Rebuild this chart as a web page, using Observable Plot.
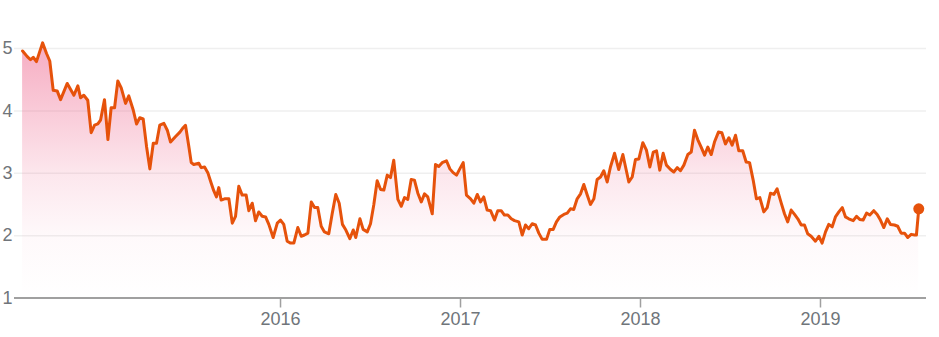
<!DOCTYPE html>
<html><head><meta charset="utf-8">
<script src="https://cdn.jsdelivr.net/npm/d3@7"></script>
<script src="https://cdn.jsdelivr.net/npm/@observablehq/plot@0.6"></script>
<style>html,body{margin:0;padding:0;background:#fff}</style>
</head><body><div id="chart"></div>
<script>
// time as fractional year
const times = [
2014.567,2014.593,2014.611,2014.626,2014.644,2014.678,2014.700,2014.718,2014.737,2014.759,
2014.778,2014.815,2014.852,2014.874,2014.889,2014.907,2014.929,2014.948,2014.967,2014.985,
2015.000,2015.022,2015.041,2015.059,2015.078,2015.096,2015.115,2015.139,2015.157,2015.182,
2015.200,2015.218,2015.237,2015.256,2015.274,2015.293,2015.311,2015.329,2015.352,2015.371,
2015.389,2015.417,2015.441,2015.459,2015.472,2015.491,2015.504,2015.518,2015.546,2015.559,
2015.578,2015.596,2015.615,2015.629,2015.644,2015.657,2015.670,2015.689,2015.713,2015.732,
2015.750,2015.768,2015.787,2015.809,2015.824,2015.843,2015.861,2015.879,2015.898,2015.917,
2015.935,2015.959,2015.982,2016.000,2016.018,2016.037,2016.056,2016.074,2016.096,2016.115,
2016.133,2016.152,2016.171,2016.189,2016.207,2016.226,2016.244,2016.268,2016.287,2016.307,
2016.326,2016.344,2016.363,2016.385,2016.404,2016.418,2016.441,2016.459,2016.482,2016.500,
2016.518,2016.537,2016.556,2016.574,2016.593,2016.611,2016.629,2016.652,2016.671,2016.689,
2016.707,2016.726,2016.744,2016.763,2016.782,2016.800,2016.818,2016.843,2016.861,2016.879,
2016.898,2016.922,2016.941,2016.959,2016.978,2016.996,2017.015,2017.033,2017.056,2017.074,
2017.093,2017.111,2017.129,2017.148,2017.167,2017.189,2017.207,2017.226,2017.244,2017.263,
2017.282,2017.300,2017.324,2017.343,2017.361,2017.379,2017.398,2017.417,2017.435,2017.454,
2017.478,2017.496,2017.515,2017.533,2017.552,2017.574,2017.593,2017.611,2017.629,2017.648,
2017.667,2017.685,2017.704,2017.722,2017.741,2017.759,2017.778,2017.796,2017.815,2017.833,
2017.856,2017.879,2017.902,2017.917,2017.935,2017.954,2017.972,2017.991,2018.013,2018.033,
2018.052,2018.071,2018.089,2018.107,2018.126,2018.144,2018.167,2018.185,2018.204,2018.222,
2018.241,2018.263,2018.282,2018.300,2018.318,2018.337,2018.356,2018.374,2018.393,2018.411,
2018.433,2018.452,2018.472,2018.491,2018.509,2018.528,2018.546,2018.568,2018.587,2018.606,
2018.626,2018.644,2018.663,2018.685,2018.704,2018.722,2018.741,2018.759,2018.782,2018.800,
2018.818,2018.837,2018.856,2018.874,2018.893,2018.911,2018.929,2018.948,2018.972,2018.991,
2019.009,2019.028,2019.046,2019.065,2019.083,2019.102,2019.121,2019.139,2019.157,2019.182,
2019.200,2019.218,2019.237,2019.256,2019.274,2019.296,2019.315,2019.333,2019.352,2019.371,
2019.389,2019.411,2019.429,2019.448,2019.467,2019.485,2019.504,2019.522,2019.533,2019.546
];
const values = [
4.96,4.87,4.82,4.86,4.79,5.09,4.92,4.80,4.33,4.32,
4.18,4.44,4.25,4.40,4.21,4.25,4.17,3.65,3.77,3.79,
3.85,4.18,3.54,4.05,4.05,4.48,4.37,4.12,4.24,4.01,
3.79,3.89,3.87,3.42,3.07,3.48,3.48,3.77,3.80,3.69,
3.50,3.59,3.66,3.73,3.77,3.42,3.17,3.14,3.16,3.09,
3.10,3.01,2.84,2.72,2.62,2.77,2.57,2.59,2.59,2.20,
2.31,2.79,2.65,2.65,2.40,2.52,2.24,2.38,2.31,2.30,
2.18,1.97,2.20,2.25,2.18,1.91,1.88,1.88,2.13,1.99,
2.01,2.04,2.54,2.45,2.45,2.15,2.06,2.03,2.35,2.66,
2.52,2.18,2.09,1.95,2.09,1.97,2.27,2.10,2.06,2.19,
2.49,2.88,2.74,2.73,2.97,2.93,3.21,2.58,2.47,2.61,
2.58,2.90,2.89,2.68,2.54,2.67,2.62,2.35,3.14,3.11,
3.17,3.20,3.07,3.01,2.97,3.07,3.17,2.65,2.59,2.52,
2.66,2.54,2.62,2.41,2.40,2.25,2.40,2.40,2.33,2.33,
2.27,2.24,2.22,2.01,2.17,2.11,2.19,2.17,2.04,1.94,
1.94,2.10,2.10,2.22,2.30,2.34,2.36,2.43,2.42,2.59,
2.67,2.82,2.65,2.50,2.59,2.90,2.94,3.04,2.86,3.10,
3.32,3.06,3.30,3.10,2.86,2.94,3.22,3.23,3.49,3.37,
3.10,3.34,3.36,3.05,3.32,3.13,3.06,3.02,3.09,3.04,
3.13,3.30,3.34,3.69,3.54,3.42,3.29,3.42,3.30,3.50,
3.66,3.65,3.47,3.57,3.45,3.61,3.36,3.36,3.18,3.17,
2.89,2.59,2.61,2.38,2.45,2.68,2.66,2.75,2.52,2.35,
2.22,2.41,2.34,2.27,2.17,2.17,2.03,1.99,1.91,1.99,
1.88,2.06,2.18,2.14,2.30,2.38,2.45,2.30,2.27,2.24,
2.31,2.26,2.25,2.36,2.33,2.40,2.34,2.25,2.13,2.27,
2.18,2.17,2.15,2.04,2.04,1.97,2.02,2.01,2.01,2.43
];
const yTicks = [1, 2, 3, 4, 5];
const xTicks = [2016, 2017, 2018, 2019];
const xDomain = [2014.522, 2019.589];

const data = times.map((t, i) => ({t, v: values[i]}));
const lineColor = "#e6520b";

const plot = Plot.plot({
  width: 939, height: 337,
  marginLeft: 14, marginRight: 13, marginTop: 48, marginBottom: 39.5,
  style: {fontFamily: "'Liberation Sans', Arial, sans-serif", fontSize: "18px", color: "#70757a", background: "#fff"},
  x: {type: "linear", domain: xDomain},
  y: {domain: [1, 5]},
  marks: [
    Plot.ruleY(yTicks.slice(1), {stroke: "#efefef", strokeWidth: 1.5}),
    Plot.areaY(data, {x: "t", y1: 1, y2: "v", fill: "url(#areaGrad)"}),
    Plot.lineY(data, {x: "t", y: "v", stroke: lineColor, strokeWidth: 3, strokeLinejoin: "round"}),
    Plot.ruleY([1], {stroke: "#a0a0a0", strokeWidth: 2}),
    Plot.axisX({ticks: xTicks, tickFormat: d => String(d), tickSize: 10, tickPadding: 4, stroke: "#a0a0a0", strokeWidth: 1.5, fill: "#70757a", fontSize: 18, label: null}),
    Plot.axisY({ticks: yTicks, tickFormat: d => String(d), tickSize: 0, tickPadding: 2, fill: "#70757a", fontSize: 18, label: null}),
    Plot.dot(data.slice(-1), {x: "t", y: "v", r: 5.5, fill: lineColor})
  ]
});

d3.select(plot).insert("defs", ":first-child").html(
  `<linearGradient id="areaGrad" gradientUnits="userSpaceOnUse" x1="0" y1="48" x2="0" y2="297.5">
     <stop offset="0" stop-color="rgb(238,100,140)" stop-opacity="0.52"/>
     <stop offset="0.25" stop-color="rgb(238,100,140)" stop-opacity="0.34"/>
     <stop offset="0.5" stop-color="rgb(238,100,140)" stop-opacity="0.16"/>
     <stop offset="0.75" stop-color="rgb(238,100,140)" stop-opacity="0.04"/>
     <stop offset="1" stop-color="rgb(238,100,140)" stop-opacity="0"/>
   </linearGradient>`);

document.getElementById("chart").appendChild(plot);
</script>
</body></html>
